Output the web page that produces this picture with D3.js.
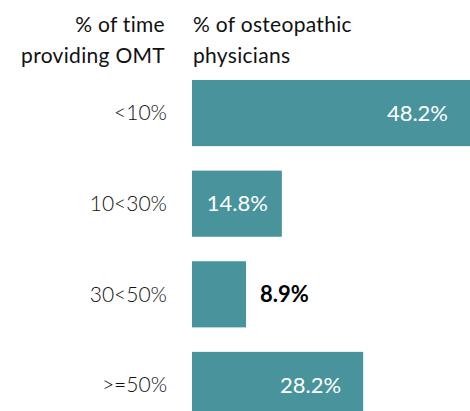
<!DOCTYPE html>
<html>
<head>
<meta charset="utf-8">
<script src="https://cdn.jsdelivr.net/npm/d3@7"></script>
<style>
  body { margin: 0; background: #fff; }
  svg { display: block; font-family: "Lato", "Open Sans", sans-serif; }
</style>
</head>
<body>
<script>
// chart data
var categories = ["<10%", "10<30%", "30<50%", ">=50%"];
var values = [48.2, 14.8, 8.9, 28.2];
var headerLeft = ["% of time", "providing OMT"];
var headerRight = ["% of osteopathic", "physicians"];

var w = 470, h = 411;
var svg = d3.select("body").append("svg")
    .attr("width", w)
    .attr("height", h);

var x = d3.scaleLinear()
    .domain([0, 10])
    .range([192, 252.7]);

// last bar runs past the bottom edge, as in the original
var y = d3.scaleBand()
    .domain(categories)
    .range([80, 418])
    .paddingInner(0.27)
    .paddingOuter(0);

// headers
svg.append("g").selectAll("text")
    .data(headerLeft)
    .enter().append("text")
    .attr("x", 165)
    .attr("y", function(d, i) { return 32 + i * 31; })
    .attr("text-anchor", "end")
    .attr("font-size", 21)
    .attr("letter-spacing", 0.3)
    .attr("fill", "#111")
    .text(function(d) { return d; });

svg.append("g").selectAll("text")
    .data(headerRight)
    .enter().append("text")
    .attr("x", 193)
    .attr("y", function(d, i) { return 32 + i * 31; })
    .attr("font-size", 21)
    .attr("letter-spacing", 0.3)
    .attr("fill", "#111")
    .text(function(d) { return d; });

// bars
svg.append("g").selectAll("rect")
    .data(values)
    .enter().append("rect")
    .attr("x", x(0))
    .attr("y", function(d, i) { return y(categories[i]); })
    .attr("width", function(d) { return x(d) - x(0); })
    .attr("height", y.bandwidth())
    .attr("fill", "#49939c");

// category labels
svg.append("g").selectAll("text")
    .data(categories)
    .enter().append("text")
    .attr("x", 167)
    .attr("y", function(d) { return y(d) + y.bandwidth() / 2; })
    .attr("dy", "0.35em")
    .attr("text-anchor", "end")
    .attr("font-size", 21)
    .attr("font-weight", 300)
    .attr("fill", "#111")
    .text(function(d) { return d; });

// value labels: inside the bar end, small bars get the label outside
svg.append("g").selectAll("text")
    .data(values)
    .enter().append("text")
    .attr("x", function(d) {
        var wd = x(d) - x(0);
        if (wd < 70) return x(d) + 14;
        return Math.min(x(d), w) - (wd < 120 ? 14 : 22);
    })
    .attr("y", function(d, i) { return y(categories[i]) + y.bandwidth() / 2; })
    .attr("dy", "0.35em")
    .attr("text-anchor", function(d) { return (x(d) - x(0)) < 70 ? "start" : "end"; })
    .attr("font-size", 22)
    .attr("font-weight", function(d) { return (x(d) - x(0)) < 70 ? 700 : 400; })
    .attr("fill", function(d) { return (x(d) - x(0)) < 70 ? "#000" : "#fff"; })
    .text(function(d) { return d.toFixed(1) + "%"; });
</script>
</body>
</html>
